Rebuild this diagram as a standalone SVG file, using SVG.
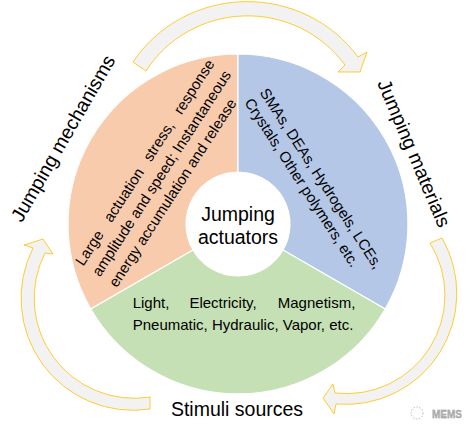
<svg xmlns="http://www.w3.org/2000/svg" width="476" height="433" viewBox="0 0 476 433">
<style>
.t{font-family:"Liberation Sans",Arial,Helvetica,sans-serif;fill:#000;}
.s15{font-size:15px;}
.s19{font-size:19.5px;}
.arrow{fill:#F2F2F2;stroke:#FFC000;stroke-width:0.8;stroke-linejoin:miter;}
.sec{stroke:#FFFFFF;stroke-width:1.2;}
</style>
<rect x="0" y="0" width="476" height="433" fill="#FFFFFF"/>
<g id="connectors">
<path class="arrow" d="M133,62 A136,132 0 0 1 358,57 L367,52 L360,72 L338,72 L345,65 A120,118 0 0 0 146,71 Z"/>
<path class="arrow" d="M442,238 A111,111 0 0 1 336,404 L334,414 L323,398 L333,384 L335,393 A98.5,98.5 0 0 0 430,243 Z"/>
<path class="arrow" d="M150,397 L150,409 A112,112 0 0 1 33,248 L24,245 L43,239 L53,254 L45,253 A100,100 0 0 0 150,397 Z"/>
</g>
<g id="mechanisms">
<path class="sec" fill="#F8CBAD" d="M90.8,309 A170,170 0 0 1 238,54 L238,172 A52,52 0 0 0 193,250 Z"/>
<text class="t s15" transform="translate(83.3,266.7) rotate(-57)"><tspan x="0" y="0">Large</tspan><tspan x="51.7" y="0">actuation</tspan><tspan x="124.3" y="0">stress,</tspan><tspan x="180.2" y="0">response</tspan><tspan x="0" y="19.9">amplitude and speed; Instantaneous</tspan><tspan x="0" y="39.8">energy accumulation and release</tspan></text>
</g>
<g id="materials">
<path class="sec" fill="#B4C7E7" d="M238,54 A170,170 0 0 1 385.2,309 L283,250 A52,52 0 0 0 238,172 Z"/>
<text class="t s15" transform="translate(259.3,92.5) rotate(57)"><tspan x="0" y="0">SMAs, DEAs, Hydrogels, LCEs,</tspan><tspan x="0" y="18.4">Crystals, Other polymers, etc.</tspan></text>
</g>
<g id="stimuli">
<path class="sec" fill="#C5E0B4" d="M385.2,309 A170,170 0 0 1 90.8,309 L193,250 A52,52 0 0 0 283,250 Z"/>
<text class="t s15" y="308"><tspan x="132.7">Light,</tspan><tspan x="189.4">Electricity,</tspan><tspan x="355.3" text-anchor="end">Magnetism,</tspan></text>
<text class="t s15" x="132.7" y="330">Pneumatic, Hydraulic, Vapor, etc.</text>
</g>
<g id="center">
<text class="t s19" text-anchor="middle"><tspan x="238" y="220.5">Jumping</tspan><tspan x="238" y="243.5">actuators</tspan></text>
</g>
<g id="labels">
<text class="t s19" transform="translate(21.7,223.3) rotate(-60)">Jumping mechanisms</text>
<text class="t s19" transform="translate(377,83) rotate(67)">Jumping materials</text>
<text class="t s19" x="237" y="415.7" text-anchor="middle">Stimuli sources</text>
</g>
<g id="watermark">
<circle cx="417" cy="413" r="6" fill="none" stroke="#AAAAAA" stroke-width="0.8" stroke-dasharray="1.5 1.5"/>
<text x="432" y="418" font-family="Liberation Sans,Arial,sans-serif" font-size="10" font-weight="bold" fill="#BBBBBB" stroke="#888888" stroke-width="0.3">MEMS</text>
</g>
</svg>
